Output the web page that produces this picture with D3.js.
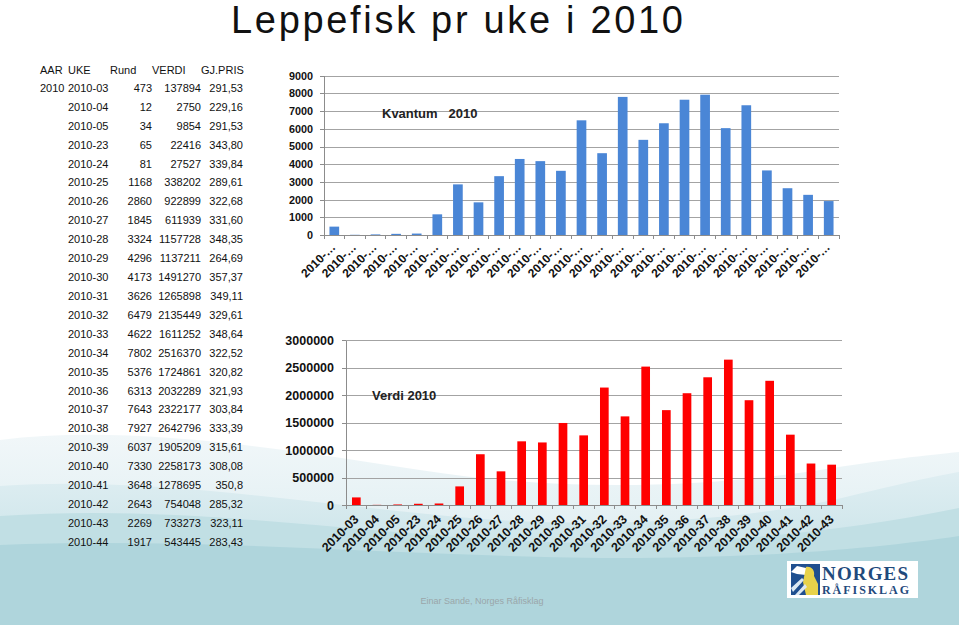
<!DOCTYPE html>
<html><head><meta charset="utf-8">
<script src="https://cdn.jsdelivr.net/npm/d3@7"></script>
<style>
body{margin:0;background:#fff;}
svg{display:block;font-family:"Liberation Sans",Arial,sans-serif;}
</style>
</head><body>
<svg id="c" width="959" height="630"></svg>
<script>
// ---------- DATA ----------
const titleText = "Leppefisk pr uke i 2010";
const tableHeaders = ["AAR", "UKE", "Rund", "VERDI", "GJ.PRIS"];
const aar = "2010";
const weeks = ["2010-03","2010-04","2010-05","2010-23","2010-24","2010-25","2010-26","2010-27","2010-28","2010-29","2010-30","2010-31","2010-32","2010-33","2010-34","2010-35","2010-36","2010-37","2010-38","2010-39","2010-40","2010-41","2010-42","2010-43","2010-44"];
const rund = [473,12,34,65,81,1168,2860,1845,3324,4296,4173,3626,6479,4622,7802,5376,6313,7643,7927,6037,7330,3648,2643,2269,1917];
const verdi = [137894,2750,9854,22416,27527,338202,922899,611939,1157728,1137211,1491270,1265898,2135449,1611252,2516370,1724861,2032289,2322177,2642796,1905209,2258173,1278695,754048,733273,543445];
const gjPris = ["291,53","229,16","291,53","343,80","339,84","289,61","322,68","331,60","348,35","264,69","357,37","349,11","329,61","348,64","322,52","320,82","321,93","303,84","333,39","315,61","308,08","350,8","285,32","323,11","283,43"];
const kvantumTicks = [0,1000,2000,3000,4000,5000,6000,7000,8000,9000];
const verdiTicks = [0,500000,1000000,1500000,2000000,2500000,3000000];
const verdiWeeks = weeks.slice(0, 24);
const verdiChart = verdi.slice(0, 24);
const kvantumLabel = "Kvantum   2010";
const verdiLabel = "Verdi 2010";
const footer = "Einar Sande, Norges Råfisklag";

const svg = d3.select("#c");
const SERIF = "'Liberation Serif','DejaVu Serif',serif";

// ---------- BACKGROUND ----------
const defs = svg.append("defs");
const g1 = defs.append("linearGradient").attr("id","wg1").attr("x1",0).attr("y1",0).attr("x2",0).attr("y2",1);
g1.append("stop").attr("offset","0").attr("stop-color","#f1f7f9");
g1.append("stop").attr("offset","1").attr("stop-color","#d3e8ed");
const g2 = defs.append("linearGradient").attr("id","wg2").attr("x1",0).attr("y1",0).attr("x2",0).attr("y2",1);
g2.append("stop").attr("offset","0").attr("stop-color","#dfeef2");
g2.append("stop").attr("offset","1").attr("stop-color","#b9dbe1");
const bg = svg.append("g");
bg.append("rect").attr("width",959).attr("height",630).attr("fill","#ffffff");
bg.append("path").attr("fill","url(#wg1)")
  .attr("d","M0,440 C120,425 260,445 420,470 C560,492 700,488 820,470 C880,460 930,455 959,452 L959,630 L0,630 Z");
bg.append("path").attr("fill","url(#wg2)")
  .attr("d","M0,486 C150,476 300,503 470,518 C620,530 760,518 850,496 C900,484 935,476 959,472 L959,630 L0,630 Z");
bg.append("path").attr("fill","#c1dfe4")
  .attr("d","M0,516 C180,504 330,531 520,541 C680,548 820,536 959,508 L959,630 L0,630 Z");
bg.append("path").attr("fill","#afd5dc")
  .attr("d","M0,545 C200,537 400,556 600,558 C760,559 880,548 959,536 L959,630 L0,630 Z");
bg.append("rect").attr("x",0).attr("y",625).attr("width",959).attr("height",5).attr("fill","#ffffff");

// ---------- TITLE ----------
svg.append("text").attr("x",457).attr("y",33).attr("text-anchor","middle")
  .attr("font-size",38).attr("fill","#111").attr("textLength",452).attr("lengthAdjust","spacing")
  .text(titleText);

// ---------- TABLE ----------
const tbl = svg.append("g").attr("font-size",11).attr("fill","#111");
const rowY = d3.scaleLinear().domain([0, weeks.length - 1]).range([88, 542]);
const colX = {aar:40, uke:68, rund:152, verdi:201, pris:243};
const hdrX = [40, 68, 110, 152, 201];
tbl.selectAll("text.h").data(tableHeaders).join("text").attr("class","h")
  .attr("x",(d,i)=>hdrX[i]).attr("y",70).attr("dy","0.35em").text(d=>d);
tbl.append("text").attr("x",colX.aar).attr("y",rowY(0)).attr("dy","0.35em").text(aar);
const rows = tbl.selectAll("g.r").data(weeks).join("g").attr("class","r")
  .attr("transform",(d,i)=>`translate(0,${rowY(i)})`);
rows.append("text").attr("x",colX.uke).attr("dy","0.35em").text(d=>d);
rows.append("text").attr("x",colX.rund).attr("dy","0.35em").attr("text-anchor","end").text((d,i)=>rund[i]);
rows.append("text").attr("x",colX.verdi).attr("dy","0.35em").attr("text-anchor","end").text((d,i)=>verdi[i]);
rows.append("text").attr("x",colX.pris).attr("dy","0.35em").attr("text-anchor","end").text((d,i)=>gjPris[i]);

// ---------- CHART helper ----------
function barChart(opts){
  const {cats, vals, ticks, x0, x1, yb, yt, color, pad, fs, lblFs, labelFmt, lblDx, lblDy, tickPad, label, lx, ly} = opts;
  const g = svg.append("g");
  const x = d3.scaleBand().domain(cats).range([x0, x1]).paddingInner(pad).paddingOuter(pad/2);
  const y = d3.scaleLinear().domain([0, d3.max(ticks)]).range([yb, yt]);
  // gridlines
  g.append("g").attr("transform",`translate(${x0},0)`)
    .call(d3.axisLeft(y).tickValues(ticks).tickSize(-(x1-x0)).tickFormat(""))
    .call(a=>a.select(".domain").remove())
    .call(a=>a.selectAll("line").attr("stroke","#a3a3a3").attr("stroke-width",1).attr("shape-rendering","crispEdges"));
  // y axis with labels
  g.append("g").attr("transform",`translate(${x0},0)`)
    .call(d3.axisLeft(y).tickValues(ticks).tickSize(4).tickPadding(tickPad).tickSizeOuter(0).tickFormat(d3.format("d")))
    .call(a=>a.select(".domain").attr("stroke","#8c8c8c").attr("shape-rendering","crispEdges"))
    .call(a=>a.selectAll("line").attr("stroke","#8c8c8c").attr("shape-rendering","crispEdges"))
    .call(a=>a.selectAll("text").attr("font-size",fs).attr("font-weight","bold").attr("fill","#111")
      .attr("font-family",null));
  // title label
  g.append("text").attr("x",lx).attr("y",ly).attr("font-size",13).attr("font-weight","bold")
    .attr("fill","#222").style("white-space","pre").text(label);
  // bars
  g.selectAll("rect.b").data(vals).join("rect").attr("class","b")
    .attr("x",(d,i)=>x(cats[i])).attr("width",x.bandwidth())
    .attr("y",d=>y(d)).attr("height",d=>yb - y(d)).attr("fill",color);
  // x axis line
  g.append("line").attr("x1",x0).attr("x2",x1).attr("y1",yb).attr("y2",yb)
    .attr("stroke","#8c8c8c").attr("shape-rendering","crispEdges");
  // tick marks at category boundaries
  const bounds = d3.range(cats.length + 1).map(i => x0 + i * x.step());
  g.selectAll("line.t").data(bounds).join("line").attr("class","t")
    .attr("x1",d=>d).attr("x2",d=>d).attr("y1",yb).attr("y2",yb+4)
    .attr("stroke","#8c8c8c").attr("shape-rendering","crispEdges");
  // x labels
  g.selectAll("text.xl").data(cats).join("text").attr("class","xl")
    .attr("transform",d=>`translate(${x(d)+x.bandwidth()/2+lblDx},${yb+lblDy}) rotate(-45)`)
    .attr("text-anchor","end").attr("font-size",lblFs).attr("font-weight","bold").attr("fill","#111")
    .text(labelFmt);
  return g;
}

barChart({cats:weeks, vals:rund, ticks:kvantumTicks, x0:324, x1:839, yb:235, yt:75.7,
  color:"#4a86d6", pad:0.53, fs:10.8, lblFs:12, labelFmt:d=>d.slice(0,5)+"…",
  lblDx:2, lblDy:13, tickPad:7, label:kvantumLabel, lx:382, ly:118});

barChart({cats:verdiWeeks, vals:verdiChart, ticks:verdiTicks, x0:346, x1:842, yb:505, yt:340,
  color:"#ff0000", pad:0.58, fs:12.5, lblFs:12.5, labelFmt:d=>d,
  lblDx:3, lblDy:15, tickPad:8, label:verdiLabel, lx:372, ly:400});

// ---------- LOGO ----------
const logo = svg.append("g");
logo.append("rect").attr("x",787).attr("y",561).attr("width",131).attr("height",37).attr("fill","#ffffff");
logo.append("rect").attr("x",791).attr("y",564).attr("width",29).attr("height",31).attr("fill","#1f4f8f");
logo.append("path").attr("fill","#ffffff").attr("d","M791,572 L797,566 L806,568 L806,575 L797,574 Z");
logo.append("path").attr("fill","#e7d24a").attr("d","M806,567 C812,566 815,571 814,576 L818,584 L818,595 L806,595 L803,582 Z");
logo.append("path").attr("fill","#dbe8f2").attr("d","M791,588 L802,578 L804,580 L793,592 Z M795,595 L805,584 L807,587 L799,595 Z");
logo.append("text").attr("x",822).attr("y",580).style("font-family",SERIF)
  .attr("font-weight","bold").attr("font-size",19).attr("fill","#1f4a7c").attr("textLength",86).text("NORGES");
logo.append("text").attr("x",822).attr("y",594).style("font-family",SERIF)
  .attr("font-weight","bold").attr("font-size",12).attr("fill","#1f4a7c").attr("textLength",87).text("RÅFISKLAG");

// ---------- FOOTER ----------
svg.append("text").attr("x",482).attr("y",604).attr("text-anchor","middle")
  .attr("font-size",9).attr("fill","#9aa6aa").text(footer);
</script>
</body></html>
